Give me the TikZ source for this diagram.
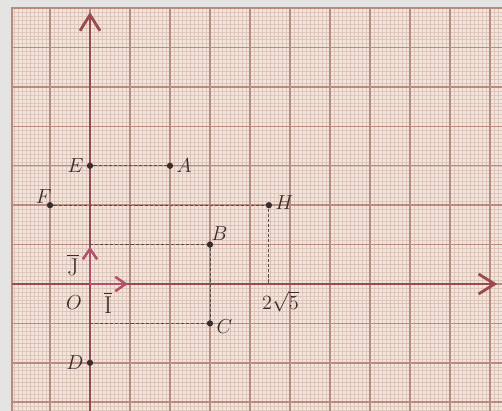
\documentclass[tikz,border=0pt]{standalone}
\usepackage{amsmath}
\usetikzlibrary{arrows.meta,positioning,calc}
\definecolor{PB}{HTML}{E4E4E2}
\definecolor{PP}{HTML}{F2E6DC}
\definecolor{GS}{HTML}{DDC6BC}
\definecolor{GH}{HTML}{D9C0B5}
\definecolor{GM}{HTML}{B98A7E}
\definecolor{AX}{HTML}{9A4A4E}
\definecolor{VC}{HTML}{B44F6C}
\definecolor{DK}{HTML}{3A2C2C}

\tikzset{
  lbl/.style={font=\fontsize{15}{17}\selectfont, text=DK, inner sep=1pt},
  veclbl/.style={font=\fontsize{17}{19}\selectfont, text=DK, inner sep=1pt},
  dotpt/.style={circle, fill=DK, inner sep=0pt, minimum size=4.5pt},
  guide/.style={draw=DK!85, line width=0.55pt, dash pattern=on 2.2pt off 1.4pt},
  axis/.style={draw=AX, line width=2pt, -{Straight Barb[length=4mm,width=5mm,line width=2pt]}},
  unitvec/.style={draw=VC, line width=1.8pt, -{Straight Barb[length=2.6mm,width=3.6mm,line width=1.8pt]}},
}

\begin{document}
\begin{tikzpicture}[x=1cm,y=0.985cm]
  \useasboundingbox (-2.25,-3.223) rectangle (10.3,7.208);
  \fill[PB] (-2.25,-3.223) rectangle (10.3,7.208);
  % millimetre paper
  \begin{scope}
    \clip (-1.95,-3.3) rectangle (10.4,7.0);
    \fill[PP] (-1.95,-3.3) rectangle (10.4,7.0);
    \draw[GS, line width=0.3pt, step=0.1] (-2,-3.3) grid (10.4,7);
    \draw[GH, line width=0.4pt, step=0.5] (-2,-3.3) grid (10.4,7);
    \draw[GM, line width=1pt, step=1] (-2,-3.3) grid (10.4,7);
  \end{scope}
  \draw[GM, line width=1.2pt] (-1.95,-3.3) |- (10.4,7.0);

  % axes
  \coordinate (O) at (0,0);
  \coordinate (xl) at (-1.95,0);
  \coordinate (xr) at (10.18,0);
  \coordinate (yb) at (0,-3.3);
  \coordinate (yt) at (0,6.9);
  \draw[axis] (xl) -- (xr);
  \draw[axis] (yb) -- (yt);

  % points
  \node[dotpt] (E) at (0,3) {};
  \node[dotpt] (A) at (2,3) {};
  \node[dotpt] (F) at (-1,2) {};
  \node[dotpt] (H) at ({2*sqrt(5)},2) {};
  \node[dotpt] (B) at (3,1) {};
  \node[dotpt] (C) at (3,-1) {};
  \node[dotpt] (D) at (0,-2) {};
  \coordinate (Hx) at ({2*sqrt(5)},0);
  \coordinate (By) at (0,1);
  \coordinate (Cy) at (0,-1);
  \coordinate (I) at (1,0);
  \coordinate (J) at (0,1);

  % dashed guides
  \draw[guide] (E) -- (A);
  \draw[guide] (F) -- (H);
  \draw[guide] (H) -- (Hx);
  \draw[guide] (By) -- (B);
  \draw[guide] (B) -- (C);
  \draw[guide] (Cy) -- (C);

  % unit vectors
  \draw[unitvec, shorten >=1.5pt] (O) -- (I);
  \draw[unitvec, shorten >=1.5pt] (O) -- (J);

  % labels
  \node[lbl, left=1pt of E] (lE) {$E$};
  \node[lbl, right=1pt of A] (lA) {$A$};
  \node[lbl, above left=-2pt and -4pt of F] (lF) {$F$};
  \node[lbl, right=1pt of H, yshift=2pt] (lH) {$H$};
  \node[lbl, above right=0pt and -2pt of B] (lB) {$B$};
  \node[lbl, right=1pt of C, yshift=-2pt] (lC) {$C$};
  \node[lbl, left=1pt of D] (lD) {$D$};
  \node[lbl] (lO) at (-0.4,-0.46) {$O$};
  \node[veclbl] (lI) at (0.45,-0.48) {$\overline{\mathrm{I}}$};
  \node[veclbl] (lJ) at (-0.43,0.48) {$\overline{\mathrm{J}}$};
  \node[lbl, below right=4pt and -6pt of Hx] (l25) {$2\sqrt{5}$};
\end{tikzpicture}
\end{document}
